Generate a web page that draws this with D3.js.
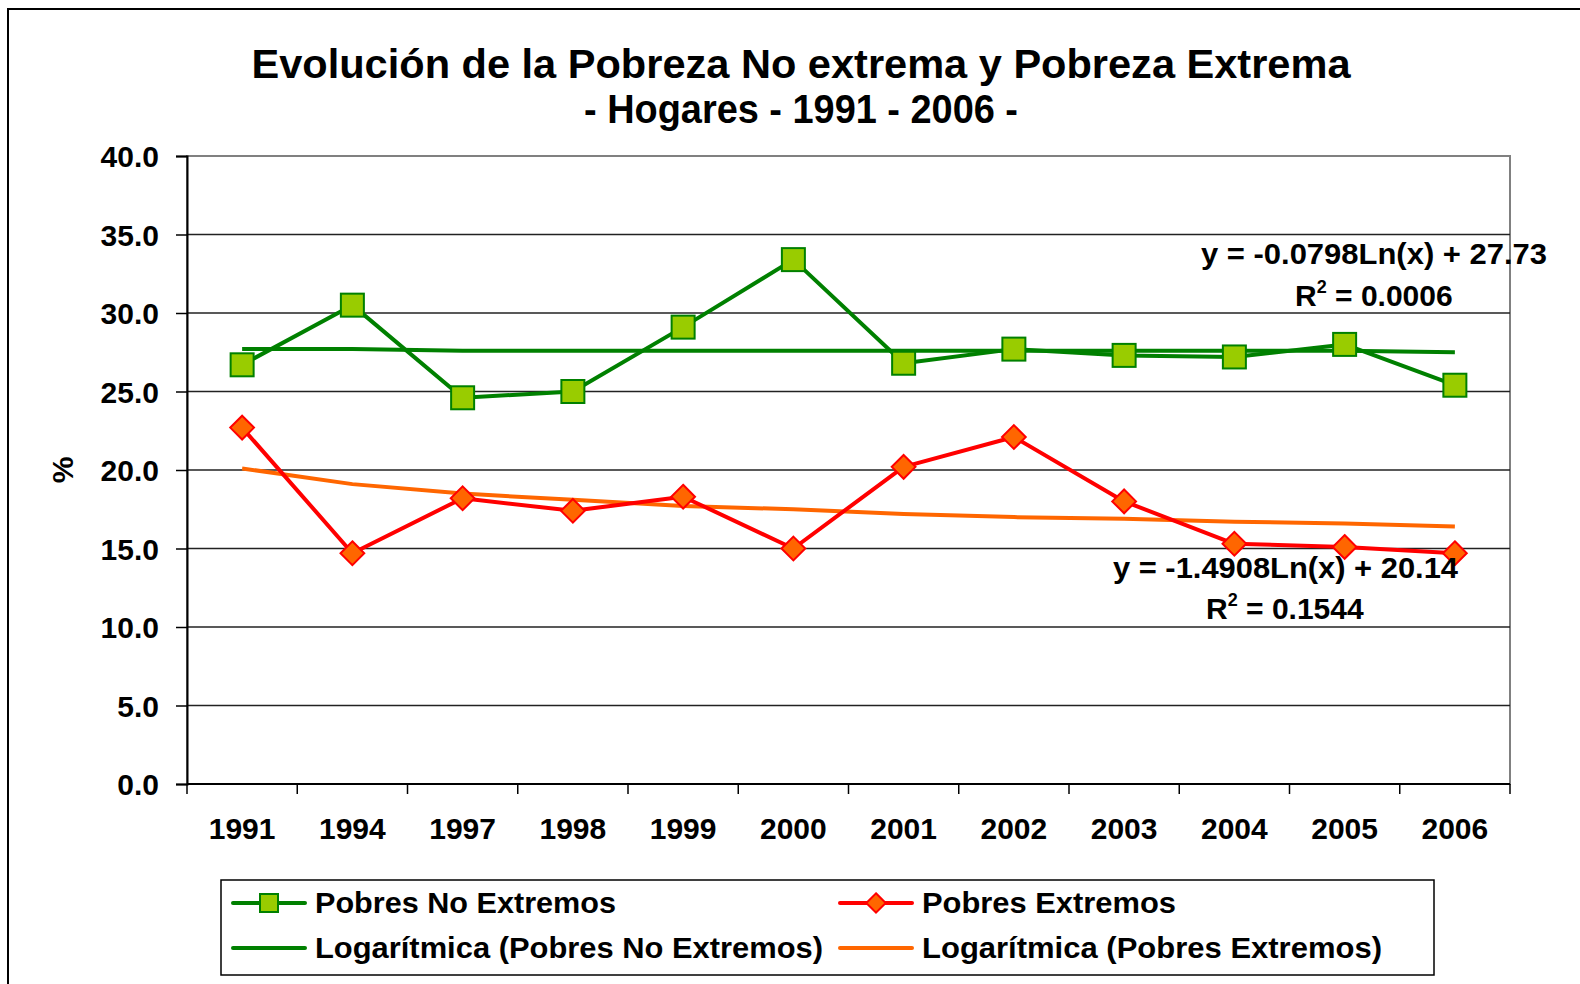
<!DOCTYPE html>
<html>
<head>
<meta charset="utf-8">
<script src="https://cdn.jsdelivr.net/npm/d3@7"></script>
<style>
body { margin: 0; background: #fff; }
svg text { font-family: "Liberation Sans", Arial, sans-serif; font-weight: bold; fill: #000; }
</style>
</head>
<body>
<script>
// datos
var years = ["1991", "1994", "1997", "1998", "1999", "2000", "2001", "2002", "2003", "2004", "2005", "2006"];
var pobresNoExtremos = [26.7, 30.5, 24.6, 25.0, 29.1, 33.4, 26.8, 27.7, 27.3, 27.2, 28.0, 25.4];
var pobresExtremos = [22.7, 14.7, 18.2, 17.4, 18.3, 15.0, 20.2, 22.1, 18.0, 15.3, 15.1, 14.7];
// lineas de tendencia logaritmica, valores en cada año
var tendNoExtremos = [27.7, 27.7, 27.6, 27.6, 27.6, 27.6, 27.6, 27.6, 27.6, 27.6, 27.6, 27.5];
var tendExtremos = [20.1, 19.1, 18.5, 18.1, 17.7, 17.5, 17.2, 17.0, 16.9, 16.7, 16.6, 16.4];
var yTicks = [0, 5, 10, 15, 20, 25, 30, 35, 40];

function drawChart() {
    var width = 1580, height = 984;
    var mLeft = 187, mRight = 1510, mTop = 156, mBottom = 784;

    var svg = d3.select("body").append("svg")
        .attr("width", width)
        .attr("height", height);

    // marco exterior
    svg.append("path")
        .attr("d", "M8,990 L8,9 L1590,9")
        .attr("fill", "none")
        .attr("stroke", "#000")
        .attr("stroke-width", 2);

    var x = d3.scaleBand().domain(years).range([mLeft, mRight]);
    var y = d3.scaleLinear().domain([0, 40]).range([mBottom, mTop]);

    // area del grafico
    svg.append("rect")
        .attr("x", mLeft).attr("y", mTop)
        .attr("width", mRight - mLeft).attr("height", mBottom - mTop)
        .attr("fill", "#fff")
        .attr("stroke", "#808080")
        .attr("stroke-width", 2);

    // grid
    svg.selectAll(".grid")
        .data(yTicks.filter(function(d) { return d > 0 && d < 40; }))
        .enter().append("line")
        .attr("class", "grid")
        .attr("x1", mLeft).attr("x2", mRight)
        .attr("y1", function(d) { return y(d); })
        .attr("y2", function(d) { return y(d); })
        .attr("stroke", "#222")
        .attr("stroke-width", 1.5);

    // eje y
    var yAxis = d3.axisLeft(y)
        .tickValues(yTicks)
        .tickSize(11)
        .tickPadding(17)
        .tickFormat(d3.format(".1f"));
    var gy = svg.append("g")
        .attr("transform", "translate(" + mLeft + ",0)")
        .call(yAxis);
    gy.select(".domain").attr("stroke", "#000").attr("stroke-width", 2);
    gy.selectAll(".tick line").attr("stroke", "#000").attr("stroke-width", 1.5);
    gy.selectAll(".tick text")
        .attr("fill", "#000")
        .style("font-size", "30px")
        .attr("dy", "0.36em");

    // eje x con marcas en los limites de cada banda
    var gx = svg.append("g")
        .attr("transform", "translate(0," + mBottom + ")");
    gx.append("line")
        .attr("x1", mLeft).attr("x2", mRight)
        .attr("stroke", "#000").attr("stroke-width", 2);
    gx.selectAll(".xtick")
        .data(years.concat(["end"]))
        .enter().append("line")
        .attr("x1", function(d, i) { return mLeft + i * x.step(); })
        .attr("x2", function(d, i) { return mLeft + i * x.step(); })
        .attr("y1", 0).attr("y2", 10)
        .attr("stroke", "#000").attr("stroke-width", 1.5);
    gx.selectAll(".xlabel")
        .data(years)
        .enter().append("text")
        .attr("x", function(d) { return x(d) + x.bandwidth() / 2; })
        .attr("y", 55)
        .attr("text-anchor", "middle")
        .style("font-size", "30px")
        .text(function(d) { return d; });

    // titulo eje y
    svg.append("text")
        .attr("transform", "translate(73,470) rotate(-90)")
        .attr("text-anchor", "middle")
        .style("font-size", "30px")
        .text("%");

    // titulo
    svg.append("text")
        .attr("x", 801).attr("y", 78)
        .attr("text-anchor", "middle")
        .attr("textLength", 1099)
        .attr("lengthAdjust", "spacingAndGlyphs")
        .style("font-size", "41px")
        .text("Evolución de la Pobreza No extrema y Pobreza Extrema");
    svg.append("text")
        .attr("x", 801).attr("y", 123)
        .attr("text-anchor", "middle")
        .attr("textLength", 434)
        .attr("lengthAdjust", "spacingAndGlyphs")
        .style("font-size", "41px")
        .text("- Hogares - 1991 - 2006 -");

    var cx = function(d, i) { return x(years[i]) + x.bandwidth() / 2; };
    var line = d3.line()
        .x(cx)
        .y(function(d) { return y(d); });

    // tendencias
    svg.append("path")
        .datum(tendExtremos)
        .attr("d", line)
        .attr("fill", "none")
        .attr("stroke", "#FF6600")
        .attr("stroke-width", 4);
    svg.append("path")
        .datum(tendNoExtremos)
        .attr("d", line)
        .attr("fill", "none")
        .attr("stroke", "#008000")
        .attr("stroke-width", 4);

    // series
    svg.append("path")
        .datum(pobresNoExtremos)
        .attr("d", line)
        .attr("fill", "none")
        .attr("stroke", "#008000")
        .attr("stroke-width", 4)
        .attr("stroke-linejoin", "round");
    svg.append("path")
        .datum(pobresExtremos)
        .attr("d", line)
        .attr("fill", "none")
        .attr("stroke", "#FF0000")
        .attr("stroke-width", 4)
        .attr("stroke-linejoin", "round");

    svg.selectAll(".sq")
        .data(pobresNoExtremos)
        .enter().append("rect")
        .attr("class", "sq")
        .attr("x", function(d, i) { return cx(d, i) - 11.5; })
        .attr("y", function(d) { return y(d) - 11.5; })
        .attr("width", 23).attr("height", 23)
        .attr("fill", "#99CC00")
        .attr("stroke", "#008000")
        .attr("stroke-width", 2);

    svg.selectAll(".dm")
        .data(pobresExtremos)
        .enter().append("path")
        .attr("class", "dm")
        .attr("d", d3.symbol().type(d3.symbolDiamond2).size(360))
        .attr("transform", function(d, i) { return "translate(" + cx(d, i) + "," + y(d) + ")"; })
        .attr("fill", "#FF6600")
        .attr("stroke", "#FF0000")
        .attr("stroke-width", 2);

    // ecuaciones
    function eq(xr, yb, txt, len) {
        svg.append("text")
            .attr("x", xr).attr("y", yb)
            .attr("text-anchor", "end")
            .attr("textLength", len)
            .attr("lengthAdjust", "spacingAndGlyphs")
            .style("font-size", "30px")
            .text(txt);
    }
    function r2(xl, yb, val) {
        var t = svg.append("text")
            .attr("x", xl).attr("y", yb)
            .style("font-size", "30px");
        t.append("tspan").text("R");
        t.append("tspan").attr("dy", -13).style("font-size", "18px").text("2");
        t.append("tspan").attr("dy", 13).text(" = " + val);
    }
    eq(1547, 264, "y = -0.0798Ln(x) + 27.73", 346);
    r2(1295, 306, "0.0006");
    eq(1458, 578, "y = -1.4908Ln(x) + 20.14", 345);
    r2(1206, 619, "0.1544");

    // leyenda
    svg.append("rect")
        .attr("x", 221).attr("y", 880)
        .attr("width", 1213).attr("height", 95)
        .attr("fill", "#fff")
        .attr("stroke", "#000")
        .attr("stroke-width", 1.5);

    var legend = [
        { label: "Pobres No Extremos", color: "#008000", marker: "square", lx: 233, ly: 903, len: 301 },
        { label: "Pobres Extremos", color: "#FF0000", marker: "diamond", lx: 840, ly: 903, len: 254 },
        { label: "Logarítmica (Pobres No Extremos)", color: "#008000", marker: null, lx: 233, ly: 948, len: 508 },
        { label: "Logarítmica (Pobres Extremos)", color: "#FF6600", marker: null, lx: 840, ly: 948, len: 460 }
    ];
    var lg = svg.selectAll(".lg").data(legend).enter().append("g");
    lg.append("line")
        .attr("x1", function(d) { return d.lx; })
        .attr("x2", function(d) { return d.lx + 72; })
        .attr("y1", function(d) { return d.ly; })
        .attr("y2", function(d) { return d.ly; })
        .attr("stroke", function(d) { return d.color; })
        .attr("stroke-width", 4)
        .attr("stroke-linecap", "round");
    lg.filter(function(d) { return d.marker === "square"; })
        .append("rect")
        .attr("x", function(d) { return d.lx + 36 - 9; })
        .attr("y", function(d) { return d.ly - 9; })
        .attr("width", 18).attr("height", 18)
        .attr("fill", "#99CC00")
        .attr("stroke", "#008000")
        .attr("stroke-width", 2);
    lg.filter(function(d) { return d.marker === "diamond"; })
        .append("path")
        .attr("d", d3.symbol().type(d3.symbolDiamond2).size(240))
        .attr("transform", function(d) { return "translate(" + (d.lx + 36) + "," + d.ly + ")"; })
        .attr("fill", "#FF6600")
        .attr("stroke", "#FF0000")
        .attr("stroke-width", 2);
    lg.append("text")
        .attr("x", function(d) { return d.lx + 82; })
        .attr("y", function(d) { return d.ly + 10; })
        .attr("textLength", function(d) { return d.len; })
        .attr("lengthAdjust", "spacingAndGlyphs")
        .style("font-size", "30px")
        .text(function(d) { return d.label; });
}

drawChart();
</script>
</body>
</html>
